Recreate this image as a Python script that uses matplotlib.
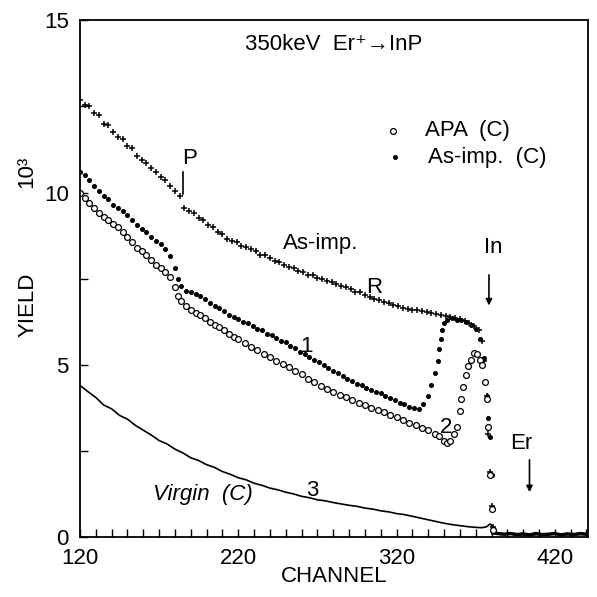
import matplotlib
matplotlib.use("Agg")
import matplotlib.pyplot as plt
from matplotlib.ticker import MultipleLocator, FixedLocator

plt.rcParams['font.family'] = ['Liberation Sans', 'DejaVu Sans']

# random spectrum, as-implanted (+)
rand_ch = [120, 123, 126, 129, 132, 135, 138, 141, 144, 147, 150, 153, 156, 159, 162, 165, 168, 171,
           174, 177, 180, 183, 186, 189, 192, 195, 198, 201, 204, 207, 210, 213, 216, 219, 222, 225,
           228, 231, 234, 237, 240, 243, 246, 249, 252, 255, 258, 261, 264, 267, 270, 273, 276, 279,
           282, 285, 288, 291, 294, 297, 300, 303, 306, 309, 312, 315, 318, 321, 324, 327, 330, 333,
           336, 339, 342, 345, 348, 351, 354, 357, 360, 363, 366, 369, 372, 374, 375.5, 377, 378, 379,
           380, 381]
rand_y = [12.7, 12.55, 12.5, 12.3, 12.25, 12.0, 11.95, 11.75, 11.6, 11.55, 11.35, 11.3, 11.05, 10.95,
          10.85, 10.7, 10.6, 10.45, 10.35, 10.2, 10.05, 9.9, 9.55, 9.45, 9.4, 9.25, 9.2, 9.05, 9.0,
          8.85, 8.8, 8.65, 8.6, 8.55, 8.45, 8.42, 8.35, 8.3, 8.2, 8.18, 8.1, 8.0, 7.98, 7.9, 7.85,
          7.8, 7.72, 7.7, 7.62, 7.6, 7.52, 7.5, 7.42, 7.4, 7.35, 7.3, 7.25, 7.2, 7.12, 7.1, 7.02,
          6.98, 6.92, 6.88, 6.82, 6.8, 6.74, 6.7, 6.66, 6.62, 6.6, 6.58, 6.55, 6.52, 6.5, 6.47, 6.45,
          6.42, 6.38, 6.35, 6.32, 6.28, 6.2, 6.12, 6.0, 5.7, 5.1, 4.1, 3.0, 1.9, 0.9, 0.3]

# aligned, as-implanted (filled dots)
asimp_ch = [120, 123, 126, 129, 132, 135, 138, 141, 144, 147, 150, 153, 156, 159, 162, 165, 168, 171,
            174, 177, 180, 182, 184, 187, 190, 193, 196, 199, 202, 205, 208, 211, 214, 217, 220, 223,
            226, 229, 232, 235, 238, 241, 244, 247, 250, 253, 256, 259, 262, 265, 268, 271, 274, 277,
            280, 283, 286, 289, 292, 295, 298, 301, 304, 307, 310, 313, 316, 319, 322, 325, 328, 331,
            334, 337, 340, 342, 344, 346, 347, 348, 349, 350, 352, 355, 358, 361, 364, 367, 370, 373,
            375, 377, 378, 379, 380, 381]
asimp_y = [10.6, 10.5, 10.35, 10.2, 10.05, 9.9, 9.8, 9.65, 9.55, 9.45, 9.35, 9.2, 9.05, 8.95, 8.85,
           8.7, 8.6, 8.5, 8.35, 8.15, 7.8, 7.5, 7.3, 7.15, 7.1, 7.05, 7.0, 6.9, 6.8, 6.7, 6.65, 6.55,
           6.45, 6.4, 6.32, 6.25, 6.2, 6.12, 6.05, 6.0, 5.9, 5.85, 5.78, 5.7, 5.65, 5.55, 5.48, 5.38,
           5.3, 5.22, 5.15, 5.08, 4.98, 4.9, 4.82, 4.75, 4.68, 4.6, 4.52, 4.45, 4.4, 4.33, 4.27, 4.22,
           4.17, 4.1, 4.03, 3.97, 3.9, 3.85, 3.78, 3.74, 3.72, 3.85, 4.1, 4.4, 4.75, 5.1, 5.45, 5.75,
           6.0, 6.2, 6.3, 6.35, 6.3, 6.3, 6.25, 6.15, 6.05, 5.75, 5.2, 4.1, 3.45, 2.9, 1.8, 0.8]

# aligned, APA (open circles)
apa_ch = [120, 123, 126, 129, 132, 135, 138, 141, 144, 147, 150, 153, 156, 159, 162, 165, 168, 171,
          174, 177, 180, 182, 184, 187, 190, 193, 196, 199, 202, 205, 208, 211, 214, 217, 220, 224,
          228, 232, 236, 240, 244, 248, 252, 256, 260, 264, 268, 272, 276, 280, 284, 288, 292, 296,
          300, 304, 308, 312, 316, 320, 324, 328, 332, 336, 340, 344, 347, 350, 352, 354, 356, 358,
          360, 361, 362, 364, 365, 367, 369, 371, 373, 374, 376, 377, 378, 379, 380, 381]
apa_y = [10.0, 9.85, 9.7, 9.55, 9.4, 9.3, 9.2, 9.1, 9.0, 8.85, 8.7, 8.55, 8.4, 8.3, 8.2, 8.05, 7.9,
         7.8, 7.7, 7.55, 7.25, 7.0, 6.85, 6.7, 6.6, 6.5, 6.45, 6.35, 6.25, 6.15, 6.1, 6.0, 5.9, 5.8,
         5.75, 5.62, 5.52, 5.42, 5.32, 5.22, 5.12, 5.02, 4.93, 4.83, 4.72, 4.6, 4.5, 4.38, 4.3, 4.2,
         4.12, 4.05, 3.98, 3.9, 3.82, 3.75, 3.68, 3.62, 3.55, 3.48, 3.4, 3.32, 3.25, 3.17, 3.1, 3.0,
         2.92, 2.8, 2.72, 2.8, 3.0, 3.2, 3.65, 4.0, 4.35, 4.7, 4.95, 5.15, 5.35, 5.3, 5.15, 5.0, 4.5,
         4.0, 3.2, 1.8, 0.8, 0.2]

# virgin (C), solid line
virgin_ch = [120, 125, 130, 135, 140, 145, 150, 155, 160, 165, 170, 175, 180, 185, 190, 195, 200,
             205, 210, 215, 220, 225, 230, 235, 240, 245, 250, 255, 260, 265, 270, 275, 280, 285,
             290, 295, 300, 305, 310, 315, 320, 325, 330, 335, 340, 345, 350, 355, 360, 365, 370,
             374, 377, 379, 381, 383, 386, 390, 395, 400, 405, 410, 415, 420, 425, 430, 435, 440]
virgin_y = [4.4, 4.22, 4.05, 3.83, 3.72, 3.53, 3.42, 3.24, 3.1, 2.96, 2.8, 2.7, 2.55, 2.44, 2.3,
            2.22, 2.1, 2.02, 1.9, 1.82, 1.72, 1.66, 1.56, 1.5, 1.42, 1.37, 1.3, 1.25, 1.18, 1.14,
            1.08, 1.05, 1.0, 0.96, 0.92, 0.89, 0.84, 0.81, 0.76, 0.73, 0.68, 0.65, 0.6, 0.55, 0.5,
            0.45, 0.4, 0.36, 0.33, 0.3, 0.28, 0.27, 0.3, 0.38, 0.3, 0.12, 0.08, 0.1, 0.07, 0.09,
            0.06, 0.08, 0.07, 0.09, 0.06, 0.08, 0.07, 0.08]

# near-zero tail of the aligned spectra beyond the In edge
tail_ch = [381, 384, 388, 392, 396, 400, 404, 408, 412, 416, 420, 424, 428, 432, 436, 440]
tail_y = [0.12, 0.1, 0.08, 0.1, 0.07, 0.09, 0.06, 0.1, 0.07, 0.08, 0.1, 0.06, 0.09, 0.07, 0.1, 0.08]

x_ticks = [120, 220, 320, 420]

fig = plt.figure(figsize=(5.97, 5.97), dpi=100)
ax = fig.add_axes([0.134, 0.1005, 0.851, 0.8655])

ax.plot(virgin_ch, virgin_y, color='black', lw=1.2)
ax.plot(tail_ch, tail_y, color='black', lw=2.5)
ax.plot(rand_ch, rand_y, ls='none', marker='+', ms=5, mew=1.1, color='black')
ax.plot(asimp_ch, asimp_y, ls='none', marker='o', ms=2.6, color='black')
ax.plot(apa_ch, apa_y, ls='none', marker='o', ms=4.2, mfc='white', mec='black', mew=0.9)

ax.set_xlim(120, 441)
ax.set_ylim(0, 15)
ax.xaxis.set_major_locator(FixedLocator(x_ticks))
ax.xaxis.set_minor_locator(MultipleLocator(10))
ax.yaxis.set_major_locator(MultipleLocator(5))
ax.yaxis.set_minor_locator(MultipleLocator(2.5))
ax.tick_params(which='both', direction='in', length=6, width=1.0, labelsize=16)
ax.tick_params(axis='y', pad=8)
ax.tick_params(axis='x', pad=8)
for s in ax.spines.values():
    s.set_linewidth(1.3)

ax.set_xlabel("CHANNEL", fontsize=16, labelpad=-2)
fig.text(0.047, 0.49, "YIELD", rotation=90, fontsize=16, ha='center', va='center')
fig.text(0.045, 0.712, "10\u00b3", rotation=90, fontsize=16, ha='center', va='center')

ax.text(280, 14.3, "350keV  Er\u207a\u2192InP", fontsize=16, ha='center', va='center')
ax.plot([317.7], [11.8], ls='none', marker='o', ms=4.2, mfc='white', mec='black', mew=0.9)
ax.plot([319], [11.02], ls='none', marker='o', ms=2.6, color='black')
ax.text(338, 11.8, "APA  (C)", fontsize=16, va='center')
ax.text(340, 11.02, "As-imp.  (C)", fontsize=16, va='center')

ax.text(189.5, 11.0, "P", fontsize=16, ha='center', va='center')
ax.plot([185, 185], [10.6, 9.95], color='black', lw=1.2)
ax.text(272, 8.53, "As-imp.", fontsize=16, ha='center', va='center')
ax.text(305.7, 7.25, "R", fontsize=16, ha='center', va='center')
ax.text(263, 5.54, "1", fontsize=16, ha='center', va='center')
ax.text(351, 3.19, "2", fontsize=16, ha='center', va='center')
ax.text(266.6, 1.36, "3", fontsize=16, ha='center', va='center')
ax.text(197.7, 1.22, "Virgin  (C)", fontsize=16, ha='center', va='center', style='italic')
ax.text(381, 8.41, "In", fontsize=16, ha='center', va='center')
ax.annotate("", xy=(378.4, 6.64), xytext=(378.4, 7.69),
            arrowprops=dict(arrowstyle='-|>', color='black', lw=1.2, mutation_scale=9))
ax.text(399, 2.7, "Er", fontsize=16, ha='center', va='center')
ax.annotate("", xy=(404, 1.22), xytext=(404, 2.32),
            arrowprops=dict(arrowstyle='-|>', color='black', lw=1.2, mutation_scale=9))

fig.savefig("out.png", dpi=100)
